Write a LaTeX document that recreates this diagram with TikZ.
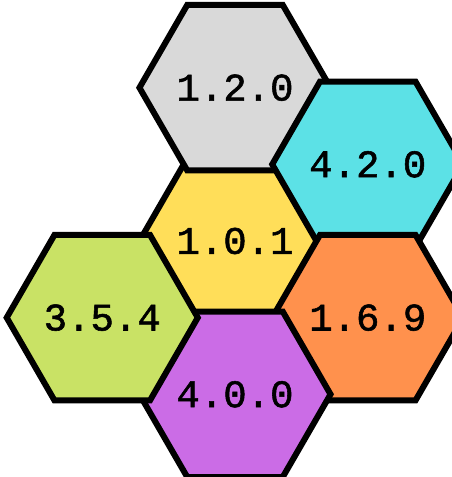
\documentclass[tikz,border=0pt]{standalone}
\usepackage{fontspec}
\newfontfamily\cellfont[FakeBold=1.4,Numbers=SlashedZero]{Liberation Mono}
\usetikzlibrary{shapes.geometric}

\definecolor{cellgray}{HTML}{D9D9D9}
\definecolor{cellcyan}{HTML}{5CE1E6}
\definecolor{cellyellow}{HTML}{FFDE59}
\definecolor{cellgreen}{HTML}{C9E265}
\definecolor{cellorange}{HTML}{FF914D}
\definecolor{cellpurple}{HTML}{CB6CE6}

\begin{document}
\begin{tikzpicture}[x=1pt,y=1pt,
    cell/.style={regular polygon,regular polygon sides=6,minimum size=177pt,
        inner sep=0pt,outer sep=0pt,draw=black,line width=6pt,
        font=\cellfont\fontsize{39}{42}\selectfont}]
        \useasboundingbox (-235,-236) rectangle (217,241);
        \node[cell,fill=cellyellow] (mid) {1.0.1};

        % ring of neighbours around the middle cell
        \foreach \ang/\col/\txt/\nm in {90/cellgray/1.2.0/up,30/cellcyan/4.2.0/upright,
                330/cellorange/1.6.9/downright,270/cellpurple/4.0.0/down,
                210/cellgreen/3.5.4/downleft}
            \node[cell,fill=\col] (\nm) at (\ang:153.3) {\txt};
    \end{tikzpicture}
\end{document}
